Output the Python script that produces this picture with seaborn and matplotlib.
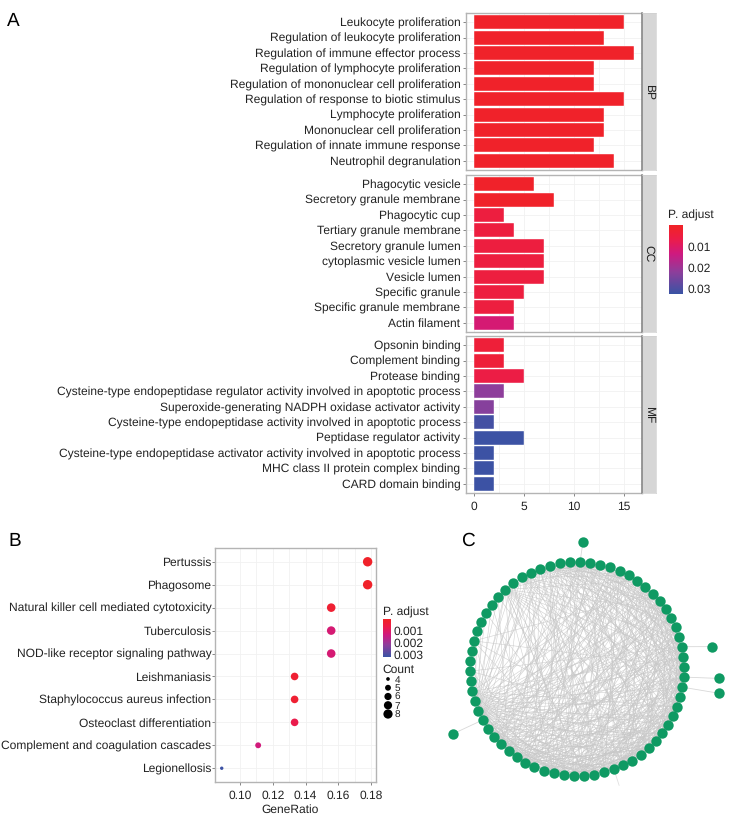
import numpy as np
import pandas as pd
import seaborn as sns
import matplotlib.pyplot as plt
from matplotlib.cm import ScalarMappable
from matplotlib.colors import LinearSegmentedColormap, Normalize
from matplotlib.ticker import FormatStrFormatter

# panel A data
bp_terms = ["Leukocyte proliferation", "Regulation of leukocyte proliferation",
            "Regulation of immune effector process", "Regulation of lymphocyte proliferation",
            "Regulation of mononuclear cell proliferation", "Regulation of response to biotic stimulus",
            "Lymphocyte proliferation", "Mononuclear cell proliferation",
            "Regulation of innate immune response", "Neutrophil degranulation"]
bp_counts = [15, 13, 16, 12, 12, 15, 13, 13, 12, 14]
bp_padj = [0.0003, 0.0003, 0.0003, 0.0003, 0.0003, 0.0003, 0.0003, 0.0003, 0.0003, 0.0004]

cc_terms = ["Phagocytic vesicle", "Secretory granule membrane", "Phagocytic cup",
            "Tertiary granule membrane", "Secretory granule lumen", "cytoplasmic vesicle lumen",
            "Vesicle lumen", "Specific granule", "Specific granule membrane", "Actin filament"]
cc_counts = [6, 8, 3, 4, 7, 7, 7, 5, 4, 4]
cc_padj = [0.001, 0.001, 0.005, 0.005, 0.005, 0.005, 0.005, 0.005, 0.005, 0.012]

mf_terms = ["Opsonin binding", "Complement binding", "Protease binding",
            "Cysteine-type endopeptidase regulator activity involved in apoptotic process",
            "Superoxide-generating NADPH oxidase activator activity",
            "Cysteine-type endopeptidase activity involved in apoptotic process",
            "Peptidase regulator activity",
            "Cysteine-type endopeptidase activator activity involved in apoptotic process",
            "MHC class II protein complex binding", "CARD domain binding"]
mf_counts = [3, 3, 5, 3, 2, 2, 5, 2, 2, 2]
mf_padj = [0.004, 0.004, 0.006, 0.022, 0.023, 0.031, 0.032, 0.032, 0.032, 0.032]

# panel B data
kegg_terms = ["Pertussis", "Phagosome", "Natural killer cell mediated cytotoxicity", "Tuberculosis",
              "NOD-like receptor signaling pathway", "Leishmaniasis", "Staphylococcus aureus infection",
              "Osteoclast differentiation", "Complement and coagulation cascades", "Legionellosis"]
kegg_ratio = [0.1778, 0.1778, 0.1556, 0.1556, 0.1556, 0.1333, 0.1333, 0.1333, 0.1111, 0.0889]
kegg_count = [8, 8, 7, 7, 7, 6, 6, 6, 5, 4]
kegg_padj = [0.00006, 0.00006, 0.0003, 0.0012, 0.0012, 0.0003, 0.0003, 0.0007, 0.0013, 0.0032]
count_levels = [4, 5, 6, 7, 8]

# panel C data, ring nodes are numbered clockwise from the top
n_ring = 66
edges_from = {
    45: [2, 5, 8, 11, 13, 15, 17, 19, 21, 23, 25, 27, 30, 33, 36, 38, 40, 42, 52, 54, 56, 58, 60, 62],
    46: [1, 4, 7, 10, 12, 14, 16, 18, 20, 22, 24, 26, 28, 31, 34, 37, 39, 41, 53, 55, 57, 59, 61, 63],
    44: [3, 6, 9, 12, 15, 18, 21, 24, 27, 29, 32, 35, 37, 39, 41, 58, 61, 64],
    42: [1, 4, 7, 10, 14, 17, 20, 23, 26, 28, 30, 32, 34, 36, 38, 40, 59, 62],
    41: [0, 4, 8, 13, 16, 19, 22, 25, 28, 30, 33, 36, 38, 60, 63, 65],
    40: [2, 5, 9, 11, 15, 18, 21, 24, 27, 29, 31, 33, 35, 37, 57, 64],
    39: [2, 6, 10, 14, 17, 20, 23, 26, 29, 31, 33, 35, 37, 58, 62],
    38: [0, 3, 7, 11, 13, 16, 19, 22, 25, 28, 30, 32, 34, 36, 61],
    36: [1, 5, 9, 12, 15, 18, 21, 24, 27, 30, 33, 56, 61, 64],
    35: [0, 4, 8, 10, 14, 17, 20, 23, 26, 29, 31, 33, 59, 63],
    33: [3, 7, 11, 14, 17, 20, 22, 25, 28, 30, 59, 63, 65],
    32: [2, 6, 9, 13, 16, 19, 21, 24, 27, 29, 58, 62, 64],
    30: [0, 4, 8, 12, 16, 19, 21, 23, 25, 27, 55, 60, 62],
    28: [1, 5, 9, 11, 14, 17, 20, 22, 24, 26, 57, 61],
    58: [2, 6, 10, 13, 15, 17, 19, 21, 23, 26, 29, 32, 35],
    60: [1, 5, 9, 11, 14, 16, 18, 20, 22, 25, 28, 34],
    62: [3, 7, 9, 12, 15, 17, 20, 23, 26, 31, 37, 1, 5],
    64: [2, 5, 8, 11, 13, 16, 19, 22, 24, 27, 38, 0, 4],
    63: [3, 6, 10, 12, 14, 18, 21, 25, 29, 34],
    65: [4, 7, 9, 11, 15, 17, 20, 23, 27, 31, 37],
    0: [3, 6, 10, 13, 16, 19, 22, 25, 28, 34, 40],
    1: [5, 8, 11, 14, 17, 20, 23, 26, 30, 36],
    3: [8, 12, 15, 18, 20, 23, 26, 29, 32, 35, 38],
    4: [7, 10, 13, 16, 19, 21, 24, 27, 30, 33, 37],
    6: [10, 13, 15, 17, 19, 21, 24, 27, 31, 34, 42],
    7: [11, 14, 16, 18, 20, 22, 25, 28, 32, 36],
    9: [13, 15, 17, 19, 22, 25, 28, 32, 37, 43],
    10: [14, 16, 18, 21, 23, 26, 29, 33, 39],
    12: [16, 18, 20, 23, 26, 29, 31, 35, 40],
    13: [17, 19, 21, 24, 27, 30, 34, 38],
    15: [18, 20, 22, 24, 27, 30, 34, 42],
    16: [19, 21, 23, 25, 28, 31, 36],
    18: [21, 23, 25, 28, 32, 38],
    19: [22, 24, 26, 29, 33, 37],
    21: [24, 26, 29, 35, 43],
    22: [25, 27, 30, 34, 39],
    24: [27, 29, 31, 36, 47],
    25: [28, 30, 33, 38],
    52: [8, 16, 24, 31, 40],
    49: [14, 22, 33, 43],
    47: [6, 15, 20, 27, 35, 40, 43],
    43: [5, 11, 17, 23, 31, 34, 38],
}
outer_parent = [0, 14, 17, 18, 44]
outer_angle = [2.7, 80.6, 93.8, 99.7, 242.4]
outer_radius = [127, 137, 142, 144, 140]
stub_parent = 29

W, H = 740, 818
sns.set_theme(style="white")
plt.rcParams['font.family'] = ['Liberation Sans', 'DejaVu Sans']
plt.rcParams['text.hinting'] = 'no_hinting'
plt.rcParams['text.hinting_factor'] = 1

padj_cmap = LinearSegmentedColormap.from_list(
    "padj", [(0, "#F0222A"), (0.04, "#F0222A"), (0.2, "#EC1C48"), (0.42, "#CE1A80"), (0.68, "#8E3E9B"), (1, "#3953A4")])
border = "#b4b4b4"
grid = "#f1f1f1"
text_dark = "#222222"
label_size = 8.4

fig = plt.figure(figsize=(W / 100, H / 100), dpi=100)


def px_axes(left, top, right, bottom):
    return fig.add_axes([left / W, 1 - bottom / H, (right - left) / W, (bottom - top) / H])


def px_text(x, y, s, **kw):
    fig.text(x / W, 1 - y / H, s, color=kw.pop('color', text_dark), **kw)


def style_panel(ax, ypad=2):
    ax.set_axisbelow(True)
    ax.grid(True, which='both', color=grid, linewidth=0.6)
    for s in ax.spines.values():
        s.set_visible(True)
        s.set_color(border)
        s.set_linewidth(1.0)
    ax.set_xlabel("")
    ax.set_ylabel("")
    ax.tick_params(axis='both', which='major', length=2, width=0.5, color="#555555", pad=ypad,
                   labelsize=label_size, labelcolor=text_dark, left=True, bottom=True)
    ax.tick_params(axis='x', which='major', pad=4)
    ax.tick_params(axis='both', which='minor', length=0)


def bar_panel(terms, counts, padj, top, bottom, strip, show_x):
    ax = px_axes(466, top, 642, bottom)
    norm = Normalize(0, 0.0325)
    colors = dict(zip(terms, padj_cmap(norm(padj))))
    sns.barplot(x=counts, y=terms, hue=terms, palette=colors, legend=False, width=0.9,
                saturation=1, edgecolor="#ffffff", linewidth=0.3, ax=ax)
    ax.set_xlim(-0.8, 16.8)
    ax.set_ylim(9.6, -0.6)
    ax.set_xticks([0, 5, 10, 15])
    ax.set_xticks([2.5, 7.5, 12.5], minor=True)
    style_panel(ax)
    if not show_x:
        ax.tick_params(axis='x', bottom=False, labelbottom=False)
    st = px_axes(642, top, 656, bottom)
    st.set_facecolor("#d6d6d6")
    st.set_xticks([])
    st.set_yticks([])
    for name, s in st.spines.items():
        s.set_visible(True)
        s.set_color("#808080" if name == 'left' else "#d0d0d0")
        s.set_linewidth(1.1 if name == 'left' else 0.5)
    st.text(0.5, 0.5, strip, rotation=270, ha='center', va='center', fontsize=label_size,
            color=text_dark, transform=st.transAxes)
    return ax


bar_panel(bp_terms, bp_counts, bp_padj, 13, 170, "BP", False)
bar_panel(cc_terms, cc_counts, cc_padj, 175, 332, "CC", False)
bar_panel(mf_terms, mf_counts, mf_padj, 336, 493, "MF", True)

# colour legend of panel A
px_text(668, 219, "P. adjust", fontsize=label_size)
cax = px_axes(669, 225, 683, 294)
cb = fig.colorbar(ScalarMappable(Normalize(0, 0.0325), padj_cmap), cax=cax)
cax.invert_yaxis()
cb.set_ticks([0.01, 0.02, 0.03])
cb.ax.yaxis.set_major_formatter(FormatStrFormatter('%.2f'))
cb.ax.tick_params(length=0, pad=3, labelsize=label_size, labelcolor=text_dark)
cb.outline.set_visible(False)

# panel B
df = pd.DataFrame({"term": kegg_terms, "ratio": kegg_ratio, "count": kegg_count, "padj": kegg_padj})
axb = px_axes(215, 548, 376, 782)
kegg_norm = Normalize(0, 0.00325)
sns.scatterplot(data=df, x="ratio", y="term", hue="padj", hue_norm=kegg_norm, palette=padj_cmap,
                size="count", sizes={4: 6, 5: 18, 6: 30, 7: 38, 8: 46}, linewidth=0, legend=False, ax=axb)
axb.set_xlim(0.0848, 0.1829)
axb.set_ylim(9.6, -0.6)
axb.set_xticks([0.10, 0.12, 0.14, 0.16, 0.18])
axb.set_xticks([0.11, 0.13, 0.15, 0.17], minor=True)
axb.xaxis.set_major_formatter(FormatStrFormatter('%.2f'))
style_panel(axb, ypad=0.5)
px_text(290, 813, "GeneRatio", fontsize=label_size, ha='center')

px_text(383, 616, "P. adjust", fontsize=label_size)
cax2 = px_axes(383, 619, 391, 657)
cb2 = fig.colorbar(ScalarMappable(kegg_norm, padj_cmap), cax=cax2)
cax2.invert_yaxis()
cb2.set_ticks([0.001, 0.002, 0.003])
cb2.ax.yaxis.set_major_formatter(FormatStrFormatter('%.3f'))
cb2.ax.tick_params(length=0, pad=2, labelsize=label_size, labelcolor=text_dark)
cb2.outline.set_visible(False)

px_text(382, 673, "Count", fontsize=label_size)
axs = px_axes(383, 674.5, 393, 718.5)
sns.scatterplot(x=[0] * len(count_levels), y=count_levels, size=count_levels,
                sizes={4: 7, 5: 18, 6: 27, 7: 35, 8: 44}, color="black", linewidth=0, legend=False, ax=axs)
axs.set_xlim(-1, 1)
axs.set_ylim(8.51, 3.49)
axs.set_xlabel("")
axs.set_xticks([])
axs.yaxis.tick_right()
axs.set_yticks(count_levels)
axs.tick_params(axis='y', length=0, pad=1, labelsize=7, labelcolor=text_dark)
sns.despine(ax=axs, left=True, bottom=True, right=True, top=True)
axs.patch.set_alpha(0)

# panel C, axes in pixels with the ring centre at the origin
axc = px_axes(440, 520, 740, 818)
axc.set_xlim(-137, 163)
axc.set_ylim(149, -149)
axc.axis('off')
ring_deg = 1.6 + np.arange(n_ring) * 360 / n_ring
ring_x = 107 * np.sin(np.radians(ring_deg))
ring_y = -107 * np.cos(np.radians(ring_deg))
for a, partners in edges_from.items():
    for b in partners:
        axc.plot([ring_x[a], ring_x[b]], [ring_y[a], ring_y[b]], color="#c8c8c8", lw=0.4, alpha=0.85, zorder=1)
out_x = np.array(outer_radius) * np.sin(np.radians(outer_angle))
out_y = -np.array(outer_radius) * np.cos(np.radians(outer_angle))
for p, x, y in zip(outer_parent, out_x, out_y):
    axc.plot([ring_x[p], x], [ring_y[p], y], color="#d8d8d8", lw=0.6, zorder=1)
axc.plot([ring_x[stub_parent], ring_x[stub_parent] * 1.14], [ring_y[stub_parent], ring_y[stub_parent] * 1.16],
         color="#e0e0e0", lw=0.6, zorder=1)
sns.scatterplot(x=np.r_[ring_x, out_x], y=np.r_[ring_y, out_y], color="#0f9a63", s=56, linewidth=0,
                legend=False, zorder=3, ax=axc)

px_text(7, 26, "A", fontsize=13.5, color="black")
px_text(8, 546, "B", fontsize=13.5, color="black")
px_text(461, 546, "C", fontsize=13.5, color="black")

plt.savefig("out.png", dpi=100)
